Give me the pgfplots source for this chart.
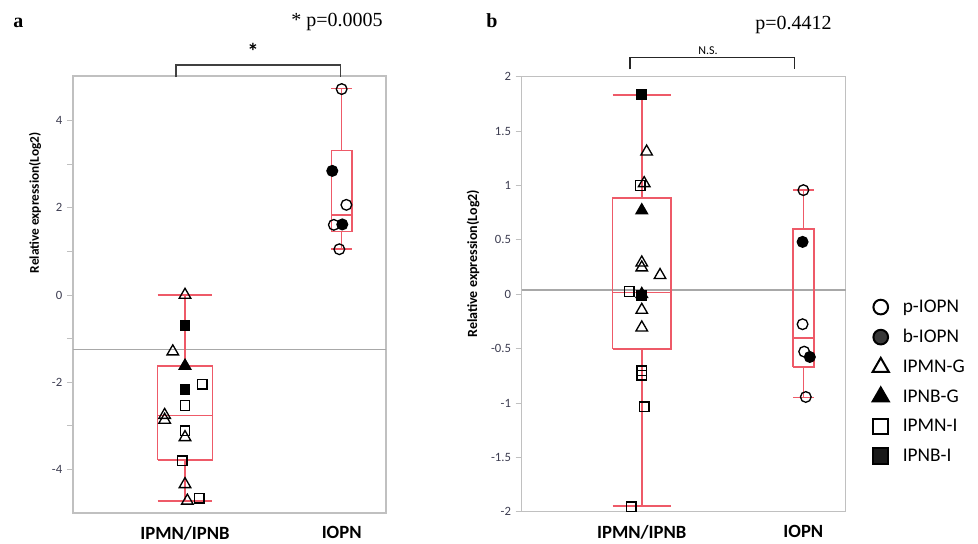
\documentclass[border=0pt]{standalone}
\usepackage{fontspec}
\setmainfont{Carlito}
\newfontfamily\tnr{Liberation Serif}
\usepackage{pgfplots}
\pgfplotsset{compat=1.18}

\definecolor{boxred}{RGB}{238,90,104}
\definecolor{axgray}{RGB}{192,192,192}
\definecolor{meangray}{RGB}{168,168,168}
\definecolor{ticktxt}{RGB}{60,60,80}
\def\u{0.75pt}

\pgfplotsset{
  panel/.style={
    scale only axis, anchor=south west, clip=false,
    axis line style={axgray, line width=0.8pt},
    tick pos=left, tick align=outside,
    major tick length=4.5pt, minor tick length=4.5pt,
    ytick style={axgray, line width=0.6pt},
    xtick style={draw=none},
    xtick={0,1}, xticklabels={IPMN/IPNB,IOPN},
    xticklabel style={font=\bfseries\fontsize{14}{16}\selectfont, yshift=-2pt},
    yticklabel style={font=\fontsize{9.5}{11}\selectfont, text=ticktxt},
    /pgf/number format/assume math mode=true,
    ylabel={Relative expression(Log2)},
  },
  bx/.style={color=boxred, line width=1.2pt, solid, mark=none, forget plot},
  opc/.style={only marks, mark=o, mark size=4pt, line width=1pt, black, forget plot},
  fic/.style={only marks, mark=*, mark size=4pt, line width=1pt, black, mark options={fill=black}, forget plot},
  otr/.style={only marks, mark=triangle, mark size=5pt, line width=1pt, black, forget plot},
  ftr/.style={only marks, mark=triangle*, mark size=5pt, line width=1pt, black, mark options={fill=black}, forget plot},
  osq/.style={only marks, mark=square, mark size=3.6pt, line width=1pt, black, forget plot},
  fsq/.style={only marks, mark=square*, mark size=3.6pt, line width=1pt, black, mark options={fill=black}, forget plot},
}

% box: position, half box width, lower whisker, Q1, median, Q3, upper whisker
\newcommand\drawbox[7]{%
  \addplot[bx] coordinates {({#1-#2},#4) ({#1+#2},#4) ({#1+#2},#6) ({#1-#2},#6) ({#1-#2},#4)};
  \addplot[bx] coordinates {({#1-#2},#5) ({#1+#2},#5)};
  \addplot[bx] coordinates {(#1,#6) (#1,#7)};
  \addplot[bx] coordinates {(#1,#4) (#1,#3)};
  \addplot[bx] coordinates {({#1-#2},#7) ({#1+#2},#7)};
  \addplot[bx] coordinates {({#1-#2},#3) ({#1+#2},#3)};
}

\begin{document}
\begin{tikzpicture}
\useasboundingbox (0,0) rectangle ({978*\u},{-543*\u});

% ---------- panel a ----------
\begin{axis}[panel,
  at={({73*\u},{-513*\u})},
  width={313*\u}, height={437*\u},
  xmin=-0.715, xmax=1.283, ymin=-5.01, ymax=5.03,
  ytick={-4,-2,0,2,4}, minor ytick={-3,-1,1,3},
  ylabel style={font=\bfseries\fontsize{10}{12}\selectfont, at={(axis description cs:-0.121,0.71)}, anchor=center},
]
\addplot[meangray, line width=1.1pt, forget plot] coordinates {(-0.715,-1.25) (1.283,-1.25)};
\drawbox{0}{0.175}{-4.74}{-3.79}{-2.77}{-1.63}{0.0}
\drawbox{1}{0.066}{1.05}{1.46}{1.84}{3.32}{4.74}
% IPMN-G
\addplot[otr] coordinates {(0,0.0) (-0.078,-1.30) (-0.13,-2.76) (-0.13,-2.87) (0,-3.27) (0,-4.35) (0.015,-4.73)};
% IPNB-G
\addplot[ftr] coordinates {(0,-1.63)};
% IPMN-I
\addplot[osq] coordinates {(0.11,-2.05) (0,-2.54) (0,-3.12) (-0.017,-3.81) (0.09,-4.67)};
% IPNB-I
\addplot[fsq] coordinates {(0,-0.71) (0,-2.18)};
% p-IOPN
\addplot[opc] coordinates {(1,4.73) (1.03,2.07) (0.95,1.61) (0.985,1.05)};
% b-IOPN
\addplot[fic] coordinates {(0.94,2.85) (1.004,1.62)};
\end{axis}

% ---------- panel b ----------
\begin{axis}[panel,
  at={({521.7*\u},{-511.7*\u})},
  width={324*\u}, height={435*\u},
  xmin=-0.743, xmax=1.262, ymin=-2, ymax=2,
  ytick={-2,-1.5,...,2},
  yticklabel style={/pgf/number format/.cd, fixed, precision=1},
  ylabel style={font=\bfseries\fontsize{10.5}{12}\selectfont, at={(axis description cs:-0.150,0.57)}, anchor=center},
  legend style={draw=none, fill=none, at={(axis description cs:1.07,0.50)}, anchor=north west,
    font=\fontsize{14.5}{16}\selectfont, row sep=7.3pt, column sep=8.5pt, legend cell align=left},
]
\addlegendimage{only marks, mark=o, mark size=5.5pt, line width=1.5pt, black}
\addlegendentry{p-IOPN}
\addlegendimage{only marks, mark=*, mark size=5.5pt, line width=1.5pt, black, mark options={fill=black!78}}
\addlegendentry{b-IOPN}
\addlegendimage{only marks, mark=triangle, mark size=7pt, line width=1.5pt, black}
\addlegendentry{IPMN-G}
\addlegendimage{only marks, mark=triangle*, mark size=7pt, line width=1.5pt, black, mark options={fill=black}}
\addlegendentry{IPNB-G}
\addlegendimage{only marks, mark=square, mark size=5.8pt, line width=1.5pt, black}
\addlegendentry{IPMN-I}
\addlegendimage{only marks, mark=square*, mark size=5.8pt, line width=1.5pt, black, mark options={fill=black!90}}
\addlegendentry{IPNB-I}
\addplot[meangray, line width=1.1pt, forget plot] coordinates {(-0.743,0.037) (1.262,0.037)};
\drawbox{0}{0.18}{-1.948}{-0.506}{0.015}{0.886}{1.833}
\drawbox{1}{0.064}{-0.951}{-0.669}{-0.405}{0.598}{0.957}
% IPMN-G
\addplot[otr] coordinates {(0.03,1.31) (0.015,1.02) (0,0.29) (0,0.245) (0.113,0.175) (0,-0.145) (0,-0.307)};
% IPNB-G
\addplot[ftr] coordinates {(0,0.77) (0,0.0)};
% IPMN-I
\addplot[osq] coordinates {(-0.01,1.0) (-0.077,0.024) (0,-0.705) (0,-0.745) (0.016,-1.034) (-0.066,-1.954)};
% IPNB-I
\addplot[fsq] coordinates {(0,1.84) (0,-0.015)};
% p-IOPN
\addplot[opc] coordinates {(1,0.957) (0.995,-0.276) (1.005,-0.528) (1.015,-0.945)};
% b-IOPN
\addplot[fic] coordinates {(0.995,0.481) (1.04,-0.577)};
\end{axis}

% ---------- annotations ----------
\node[font=\tnr\bfseries\fontsize{15}{17}\selectfont, anchor=base west, inner sep=0pt] at ({13*\u},{-27*\u}) {a};
\node[font=\tnr\bfseries\fontsize{15}{17}\selectfont, anchor=base west, inner sep=0pt] at ({486*\u},{-27*\u}) {b};
\node[font=\tnr\fontsize{15}{17}\selectfont, anchor=base east, inner sep=0pt] at ({383*\u},{-26*\u}) {* p=0.0005};
\node[font=\tnr\fontsize{15}{17}\selectfont, anchor=base east, inner sep=0pt] at ({832*\u},{-29.5*\u}) {p=0.4412};
\draw[line width=1.1pt, black!75] ({176*\u},{-77*\u}) -- ({176*\u},{-65*\u}) -- ({340.7*\u},{-65*\u}) -- ({340.7*\u},{-77*\u});
\node[font=\bfseries\fontsize{17}{18}\selectfont, inner sep=0pt] at ({253*\u},{-51*\u}) {*};
\draw[line width=1.1pt, black!85] ({630*\u},{-69.3*\u}) -- ({630*\u},{-57.7*\u}) -- ({794.3*\u},{-57.7*\u}) -- ({794.3*\u},{-69.3*\u});
\node[font=\fontsize{9}{10}\selectfont, inner sep=0pt] at ({708*\u},{-50.5*\u}) {N.S.};
\end{tikzpicture}
\end{document}
